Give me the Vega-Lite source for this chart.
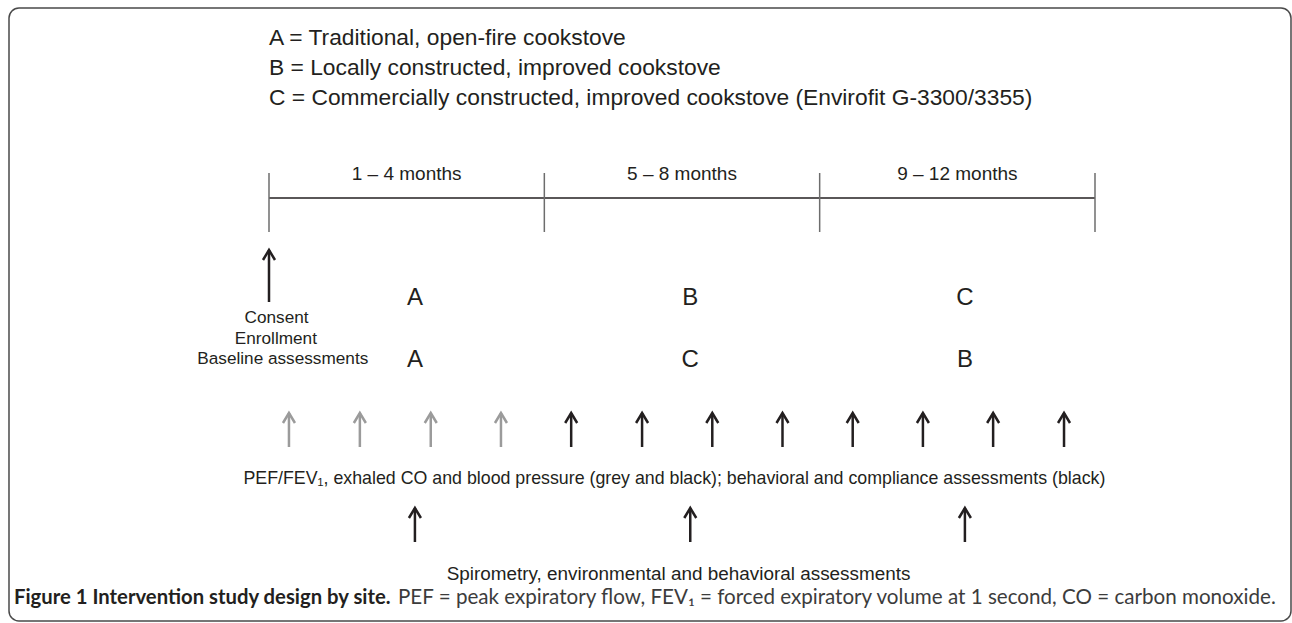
{
  "$schema": "https://vega.github.io/schema/vega-lite/v6.json",
  "width": 1282,
  "height": 613,
  "padding": {"left": 9, "top": 8, "right": 1, "bottom": 2},
  "autosize": {"type": "none"},
  "background": "white",
  "config": {
    "view": {"stroke": "#4a4a4a", "strokeWidth": 1.5, "cornerRadius": 10},
    "text": {"font": "Liberation Sans", "color": "#231f20"}
  },
  "datasets": {
    "legend": [
      {"month": 0, "row": 45, "label": "A = Traditional, open-fire cookstove"},
      {"month": 0, "row": 75, "label": "B = Locally constructed, improved cookstove"},
      {"month": 0, "row": 105, "label": "C = Commercially constructed, improved cookstove (Envirofit G-3300/3355)"}
    ],
    "periods": [
      {"month": 2, "row": 179.5, "label": "1 – 4 months"},
      {"month": 6, "row": 179.5, "label": "5 – 8 months"},
      {"month": 10, "row": 179.5, "label": "9 – 12 months"}
    ],
    "timeline": [{"start": 0, "end": 12, "row": 198}],
    "ticks": [
      {"month": 0, "top": 173, "bottom": 232},
      {"month": 4, "top": 173, "bottom": 232},
      {"month": 8, "top": 173, "bottom": 232},
      {"month": 12, "top": 173, "bottom": 232}
    ],
    "arrows": [
      {"month": 0, "tip": 250, "base": 302, "shade": "black"},
      {"month": 0.29, "tip": 413, "base": 447, "shade": "grey"},
      {"month": 1.32, "tip": 413, "base": 447, "shade": "grey"},
      {"month": 2.35, "tip": 413, "base": 447, "shade": "grey"},
      {"month": 3.37, "tip": 413, "base": 447, "shade": "grey"},
      {"month": 4.39, "tip": 413, "base": 447, "shade": "black"},
      {"month": 5.42, "tip": 413, "base": 447, "shade": "black"},
      {"month": 6.44, "tip": 413, "base": 447, "shade": "black"},
      {"month": 7.46, "tip": 413, "base": 447, "shade": "black"},
      {"month": 8.48, "tip": 413, "base": 447, "shade": "black"},
      {"month": 9.5, "tip": 413, "base": 447, "shade": "black"},
      {"month": 10.52, "tip": 413, "base": 447, "shade": "black"},
      {"month": 11.55, "tip": 413, "base": 447, "shade": "black"},
      {"month": 2.12, "tip": 508, "base": 542, "shade": "black"},
      {"month": 6.12, "tip": 508, "base": 542, "shade": "black"},
      {"month": 10.11, "tip": 508, "base": 542, "shade": "black"}
    ],
    "consent": [
      {"month": 0.11, "row": 323, "label": "Consent"},
      {"month": 0.1, "row": 343.5, "label": "Enrollment"},
      {"month": 0.2, "row": 363.5, "label": "Baseline assessments"}
    ],
    "stoves": [
      {"month": 2.12, "row": 305, "label": "A"},
      {"month": 6.12, "row": 305, "label": "B"},
      {"month": 10.11, "row": 305, "label": "C"},
      {"month": 2.12, "row": 367, "label": "A"},
      {"month": 6.12, "row": 367, "label": "C"},
      {"month": 10.11, "row": 367, "label": "B"}
    ],
    "middle": [
      {"month": 5.89, "row": 483.5, "label": "PEF/FEV₁, exhaled CO and blood pressure (grey and black); behavioral and compliance assessments (black)"}
    ],
    "spiro": [
      {"month": 5.95, "row": 580, "label": "Spirometry, environmental and behavioral assessments"}
    ],
    "capbold": [
      {"month": -3.705, "row": 604, "label": "Figure 1 Intervention study design by site."}
    ],
    "capreg": [
      {"month": 1.874, "row": 604, "label": "PEF = peak expiratory flow, FEV₁ = forced expiratory volume at 1 second, CO = carbon monoxide."}
    ]
  },
  "layer": [
    {
      "data": {"name": "timeline"},
      "mark": {"type": "rule", "color": "#231f20", "strokeWidth": 1.5},
      "encoding": {
        "x": {"field": "start", "type": "quantitative", "scale": {"domain": [-3.7772, 14.8475], "nice": false}, "axis": null},
        "x2": {"field": "end"},
        "y": {"field": "row", "type": "quantitative", "scale": {"domain": [8, 621], "reverse": true, "nice": false}, "axis": null}
      }
    },
    {
      "data": {"name": "ticks"},
      "mark": {"type": "rule", "color": "#6d6d6d", "strokeWidth": 1.5},
      "encoding": {
        "x": {"field": "month", "type": "quantitative", "scale": {"domain": [-3.7772, 14.8475], "nice": false}, "axis": null},
        "y": {"field": "top", "type": "quantitative", "scale": {"domain": [8, 621], "reverse": true, "nice": false}, "axis": null},
        "y2": {"field": "bottom"}
      }
    },
    {
      "data": {"name": "arrows"},
      "mark": {"type": "rule", "strokeWidth": 2.5},
      "encoding": {
        "x": {"field": "month", "type": "quantitative", "scale": {"domain": [-3.7772, 14.8475], "nice": false}, "axis": null},
        "y": {"field": "tip", "type": "quantitative", "scale": {"domain": [8, 621], "reverse": true, "nice": false}, "axis": null},
        "y2": {"field": "base"},
        "color": {"field": "shade", "type": "nominal", "scale": {"domain": ["grey", "black"], "range": ["#9b9b9b", "#231f20"]}, "legend": null}
      }
    },
    {
      "data": {"name": "arrows"},
      "mark": {"type": "point", "shape": "M-0.6,1L0,0L0.6,1", "filled": false, "strokeWidth": 2.5, "size": 400, "opacity": 1, "strokeJoin": "miter"},
      "encoding": {
        "x": {"field": "month", "type": "quantitative", "scale": {"domain": [-3.7772, 14.8475], "nice": false}, "axis": null},
        "y": {"field": "tip", "type": "quantitative", "scale": {"domain": [8, 621], "reverse": true, "nice": false}, "axis": null},
        "color": {"field": "shade", "type": "nominal", "scale": {"domain": ["grey", "black"], "range": ["#9b9b9b", "#231f20"]}, "legend": null}
      }
    },
    {
      "data": {"name": "legend"},
      "mark": {"type": "text", "align": "left", "baseline": "alphabetic", "fontSize": 22.8},
      "encoding": {
        "x": {"field": "month", "type": "quantitative", "scale": {"domain": [-3.7772, 14.8475], "nice": false}, "axis": null},
        "y": {"field": "row", "type": "quantitative", "scale": {"domain": [8, 621], "reverse": true, "nice": false}, "axis": null},
        "text": {"field": "label"}
      }
    },
    {
      "data": {"name": "periods"},
      "mark": {"type": "text", "align": "center", "baseline": "alphabetic", "fontSize": 19},
      "encoding": {
        "x": {"field": "month", "type": "quantitative", "scale": {"domain": [-3.7772, 14.8475], "nice": false}, "axis": null},
        "y": {"field": "row", "type": "quantitative", "scale": {"domain": [8, 621], "reverse": true, "nice": false}, "axis": null},
        "text": {"field": "label"}
      }
    },
    {
      "data": {"name": "consent"},
      "mark": {"type": "text", "align": "center", "baseline": "alphabetic", "fontSize": 17.2},
      "encoding": {
        "x": {"field": "month", "type": "quantitative", "scale": {"domain": [-3.7772, 14.8475], "nice": false}, "axis": null},
        "y": {"field": "row", "type": "quantitative", "scale": {"domain": [8, 621], "reverse": true, "nice": false}, "axis": null},
        "text": {"field": "label"}
      }
    },
    {
      "data": {"name": "stoves"},
      "mark": {"type": "text", "align": "center", "baseline": "alphabetic", "fontSize": 24},
      "encoding": {
        "x": {"field": "month", "type": "quantitative", "scale": {"domain": [-3.7772, 14.8475], "nice": false}, "axis": null},
        "y": {"field": "row", "type": "quantitative", "scale": {"domain": [8, 621], "reverse": true, "nice": false}, "axis": null},
        "text": {"field": "label"}
      }
    },
    {
      "data": {"name": "middle"},
      "mark": {"type": "text", "align": "center", "baseline": "alphabetic", "fontSize": 17.8},
      "encoding": {
        "x": {"field": "month", "type": "quantitative", "scale": {"domain": [-3.7772, 14.8475], "nice": false}, "axis": null},
        "y": {"field": "row", "type": "quantitative", "scale": {"domain": [8, 621], "reverse": true, "nice": false}, "axis": null},
        "text": {"field": "label"}
      }
    },
    {
      "data": {"name": "spiro"},
      "mark": {"type": "text", "align": "center", "baseline": "alphabetic", "fontSize": 18.9},
      "encoding": {
        "x": {"field": "month", "type": "quantitative", "scale": {"domain": [-3.7772, 14.8475], "nice": false}, "axis": null},
        "y": {"field": "row", "type": "quantitative", "scale": {"domain": [8, 621], "reverse": true, "nice": false}, "axis": null},
        "text": {"field": "label"}
      }
    },
    {
      "data": {"name": "capbold"},
      "mark": {"type": "text", "align": "left", "baseline": "alphabetic", "fontSize": 20.3, "font": "Lato", "fontWeight": "bold"},
      "encoding": {
        "x": {"field": "month", "type": "quantitative", "scale": {"domain": [-3.7772, 14.8475], "nice": false}, "axis": null},
        "y": {"field": "row", "type": "quantitative", "scale": {"domain": [8, 621], "reverse": true, "nice": false}, "axis": null},
        "text": {"field": "label"}
      }
    },
    {
      "data": {"name": "capreg"},
      "mark": {"type": "text", "align": "left", "baseline": "alphabetic", "fontSize": 20.6, "font": "Lato", "color": "#3c3c3c"},
      "encoding": {
        "x": {"field": "month", "type": "quantitative", "scale": {"domain": [-3.7772, 14.8475], "nice": false}, "axis": null},
        "y": {"field": "row", "type": "quantitative", "scale": {"domain": [8, 621], "reverse": true, "nice": false}, "axis": null},
        "text": {"field": "label"}
      }
    }
  ]
}
